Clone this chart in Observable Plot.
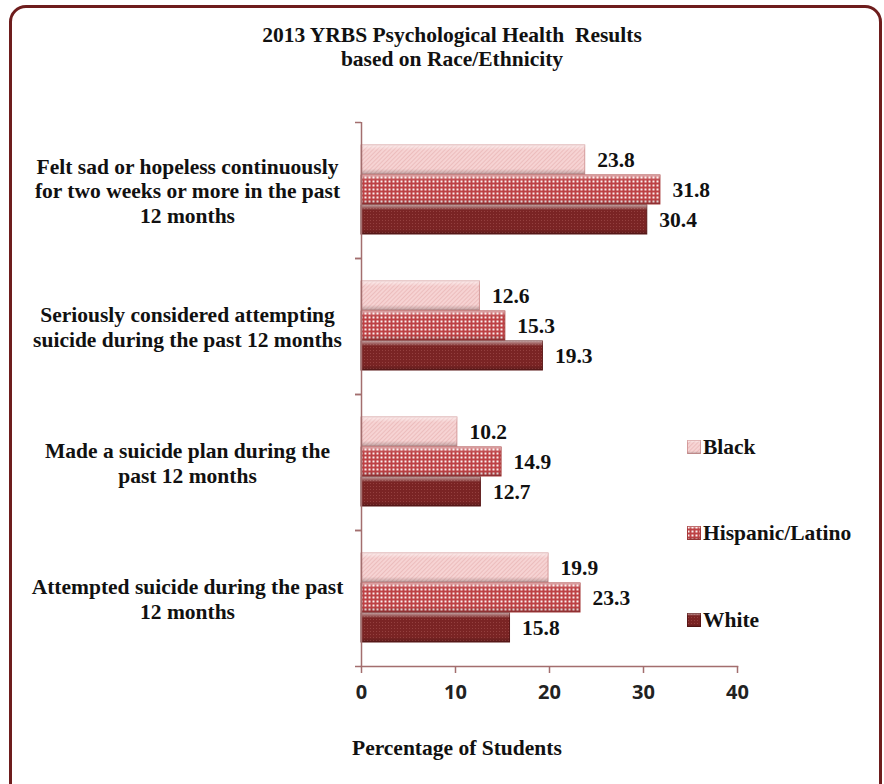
<!DOCTYPE html>
<html>
<head>
<meta charset="utf-8">
<script src="https://cdn.jsdelivr.net/npm/d3@7"></script>
<script src="https://cdn.jsdelivr.net/npm/@observablehq/plot@0.6"></script>
<style>
  body { margin: 0; background: #fff; }
  #wrap { position: relative; width: 884px; height: 784px; overflow: hidden; background: #fff; }
  .frame-border { position: absolute; left: 9px; top: 5px; width: 867px; height: 800px;
    border: 3px solid #6e1d1d; border-radius: 17px; }
  .serif { font-family: "Liberation Serif", "Times New Roman", serif; font-weight: bold; color: #111; }
  .tline { position: absolute; left: 0; width: 904px; text-align: center; font-size: 21.5px; line-height: 24px; white-space: pre; }
  .xlabel { position: absolute; left: 352px; top: 736px; font-size: 21.5px; line-height: 24px; white-space: pre; }
  .leg { position: absolute; left: 687px; font-size: 21.5px; line-height: 24px; white-space: pre; }
  .leg svg { position: absolute; left: 0; }
  .leg span { position: absolute; left: 16px; top: 0; }
  #chart { position: absolute; left: 0; top: 0; }
</style>
</head>
<body>
<svg width="0" height="0" style="position:absolute">
  <defs>
    <pattern id="patBlack" width="3" height="3" patternUnits="userSpaceOnUse" patternTransform="rotate(45)">
      <rect width="3" height="3" fill="#f6d3d3"/>
      <rect width="1" height="3" fill="#ecbdbd"/>
    </pattern>
    <pattern id="patHisp" width="4" height="4" patternUnits="userSpaceOnUse">
      <rect width="4" height="4" fill="#bd4144"/>
      <rect x="0.5" y="0.5" width="2" height="2" fill="#fbeeee"/>
    </pattern>
    <pattern id="patWhite" width="3" height="3" patternUnits="userSpaceOnUse">
      <rect width="3" height="3" fill="#7a2424"/>
      <rect x="1" y="1" width="1" height="1" fill="#94403f"/>
    </pattern>
    <linearGradient id="shine" x1="0" y1="0" x2="0" y2="1">
      <stop offset="0" stop-color="#ffffff" stop-opacity="0.55"/>
      <stop offset="0.18" stop-color="#ffffff" stop-opacity="0"/>
      <stop offset="0.82" stop-color="#000000" stop-opacity="0"/>
      <stop offset="1" stop-color="#000000" stop-opacity="0.22"/>
    </linearGradient>
  </defs>
</svg>
<div id="wrap">
  <div class="frame-border"></div>
  <div id="chart"></div>
  <div class="serif tline" style="top:23px">2013 YRBS Psychological Health  Results</div>
  <div class="serif tline" style="top:47px">based on Race/Ethnicity</div>
  <div class="serif xlabel">Percentage of Students</div>
  <div id="legend"></div>
</div>
<script>
// ---- data ----
const categories = [
  "Felt sad or hopeless continuously\nfor two weeks or more in the past\n12 months",
  "Seriously considered attempting\nsuicide during the past 12 months",
  "Made a suicide plan during the\npast 12 months",
  "Attempted suicide during the past\n12 months"
];
const series = ["Black", "Hispanic/Latino", "White"];
const blackValues = [23.8, 12.6, 10.2, 19.9];
const hispanicValues = [31.8, 15.3, 14.9, 23.3];
const whiteValues = [30.4, 19.3, 12.7, 15.8];
const xTicks = [0, 10, 20, 30, 40];

// ---- styles ----
const fills = {"Black": "url(#patBlack)", "Hispanic/Latino": "url(#patHisp)", "White": "url(#patWhite)"};
const strokes = {"Black": "#d49a9a", "Hispanic/Latino": "#a63a3a", "White": "#5a1616"};
const axisColor = "#a36e6e";
const serif = "Liberation Serif, Times New Roman, serif";

const valuesBySeries = [blackValues, hispanicValues, whiteValues];
const rows = [];
series.forEach((s, si) => categories.forEach((c, ci) => rows.push({category: c, series: s, value: valuesBySeries[si][ci]})));

const barMarks = series.map(s => Plot.barX(rows.filter(d => d.series === s), {
  fy: "category", y: "series", x: "value",
  fill: fills[s], stroke: strokes[s], strokeWidth: 1
}));

const chart = Plot.plot({
  width: 884,
  height: 784,
  marginTop: 122,
  marginBottom: 118,
  marginLeft: 361,
  marginRight: 147,
  style: {background: "transparent", overflow: "visible"},
  x: {domain: [0, 40], label: null},
  y: {domain: series, paddingInner: 0.03, paddingOuter: 0.72, axis: null},
  fy: {domain: categories, padding: 0, axis: null},
  marks: [
    ...barMarks,
    Plot.barX(rows, {fy: "category", y: "series", x: "value", fill: "url(#shine)"}),
    Plot.text(rows, {
      fy: "category", y: "series", x: "value", text: d => d.value.toFixed(1),
      dx: 12, textAnchor: "start", fontFamily: serif, fontWeight: "bold", fontSize: 21.5, fill: "#111"
    }),
    Plot.text(categories, {
      fy: d => d, text: d => d, frameAnchor: "left", dx: -174, textAnchor: "middle",
      lineHeight: 1.16, fontFamily: serif, fontWeight: "bold", fontSize: 21.5, fill: "#111"
    }),
    Plot.ruleX([0], {stroke: axisColor, strokeWidth: 1.5}),
    Plot.frame({anchor: "bottom", facetAnchor: "bottom", stroke: axisColor, strokeWidth: 1.5}),
    Plot.axisFy({anchor: "left", tickSize: 6, fill: "none", label: null, dy: -68, stroke: axisColor, strokeWidth: 1.5}),
    Plot.axisFy({anchor: "left", tickSize: 6, fill: "none", label: null, dy: 68, stroke: axisColor, strokeWidth: 1.5}),
    Plot.axisX({
      ticks: xTicks, tickSize: 7, tickPadding: 11, label: null, stroke: axisColor, strokeWidth: 1.5,
      fill: "#222", fontFamily: "Open Sans, Liberation Sans, sans-serif", fontWeight: "bold", fontSize: 20
    })
  ]
});
document.getElementById("chart").appendChild(chart);

// ---- legend ----
const legendBaselines = {"Black": 454, "Hispanic/Latino": 540, "White": 627};
const legend = document.getElementById("legend");
series.forEach(s => {
  const row = document.createElement("div");
  row.className = "leg serif";
  row.style.top = (legendBaselines[s] - 19) + "px";
  row.innerHTML = `<svg width="14" height="14" style="top:5px"><rect x="0.5" y="0.5" width="13" height="13" fill="${fills[s]}" stroke="${strokes[s]}"/><rect x="0.5" y="0.5" width="13" height="13" fill="url(#shine)"/></svg><span>${s}</span>`;
  legend.appendChild(row);
});
</script>
</body>
</html>
